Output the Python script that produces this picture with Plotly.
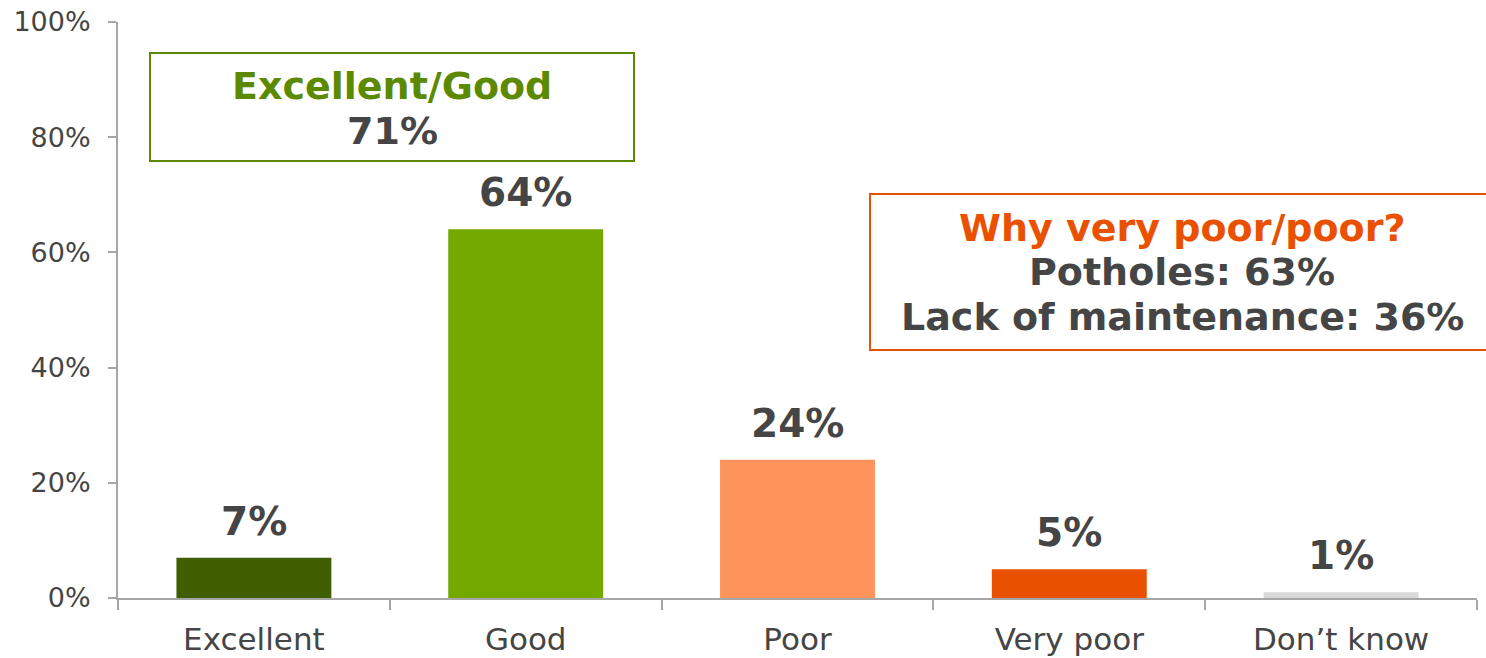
import plotly.graph_objects as go

categories = ["Excellent", "Good", "Poor", "Very poor", "Don\u2019t know"]
values = [7, 64, 24, 5, 1]
bar_colors = ["#3f5f00", "#72a800", "#ff935c", "#e95000", "#d9d9d9"]
labels = [f"{v}%" for v in values]
y_ticks = [0, 20, 40, 60, 80, 100]

good_title = "Excellent/Good"
good_value = "71%"
poor_title = "Why very poor/poor?"
poor_reasons = ["Potholes: 63%", "Lack of maintenance: 36%"]

FONT = "Verdana, DejaVu Sans, sans-serif"
DARK = "#454545"
AXIS = "#a6a6a6"
GREEN = "#5b8a00"
ORANGE = "#e95000"

# Plot box in page pixels
PL, PR, PT, PB = 118, 1477, 22, 598
def px(x):
    return (x - PL) / (PR - PL)
def py(y):
    return (PB - y) / (PB - PT)

fig = go.Figure()
fig.add_trace(go.Bar(
    x=categories, y=values, marker=dict(color=bar_colors, line=dict(width=0)),
    hoverinfo="x+y",
))

for c, v, t in zip(categories, values, labels):
    fig.add_annotation(x=c, y=v, xref="x", yref="y", text=f"<b>{t}</b>",
                       showarrow=False, yanchor="bottom", yshift=12,
                       font=dict(family=FONT, size=39, color=DARK))

fig.update_layout(
    width=1486, height=658,
    margin=dict(l=PL, r=1486 - PR, t=PT, b=658 - PB),
    plot_bgcolor="white", paper_bgcolor="white",
    bargap=0.43, showlegend=False,
    font=dict(family=FONT, color=DARK),
)
fig.update_xaxes(
    showline=True, linecolor=AXIS, linewidth=2,
    ticks="outside", tickson="boundaries", ticklen=10, tickcolor=AXIS, tickwidth=2,
    tickfont=dict(family=FONT, size=31, color=DARK), showgrid=False,
    automargin=False, ticklabelstandoff=13, ticklabeloverflow="allow",
)
fig.update_yaxes(
    range=[0, 100], tickvals=y_ticks, ticktext=[f"{t}%" for t in y_ticks],
    showline=True, linecolor=AXIS, linewidth=2,
    ticks="outside", ticklen=8, tickcolor=AXIS, tickwidth=2,
    tickfont=dict(family=FONT, size=27, color=DARK), showgrid=False, zeroline=False,
    automargin=False, ticklabelstandoff=12, ticklabeloverflow="allow",
)

# Boxes
fig.add_shape(type="rect", xref="paper", yref="paper",
              x0=px(150), x1=px(634), y0=py(161), y1=py(53),
              line=dict(color=GREEN, width=2), fillcolor="rgba(0,0,0,0)")
fig.add_shape(type="rect", xref="paper", yref="paper",
              x0=px(870), x1=px(1500), y0=py(350), y1=py(194),
              line=dict(color=ORANGE, width=2), fillcolor="rgba(0,0,0,0)")

def line_text(text, xc, yc, color):
    fig.add_annotation(xref="paper", yref="paper", x=px(xc), y=py(yc),
                       xanchor="center", yanchor="middle", text=f"<b>{text}</b>",
                       showarrow=False, font=dict(family=FONT, size=38, color=color))

line_text(good_title, 392, 86, GREEN)
line_text(good_value, 392, 131, DARK)
line_text(poor_title, 1182, 228, ORANGE)
line_text(poor_reasons[0], 1182, 272, DARK)
line_text(poor_reasons[1], 1182, 317, DARK)

fig.write_html(
    "out.html",
    config={"displayModeBar": False},
    post_script="document.body.style.margin='0';document.body.style.overflow='hidden';",
)
